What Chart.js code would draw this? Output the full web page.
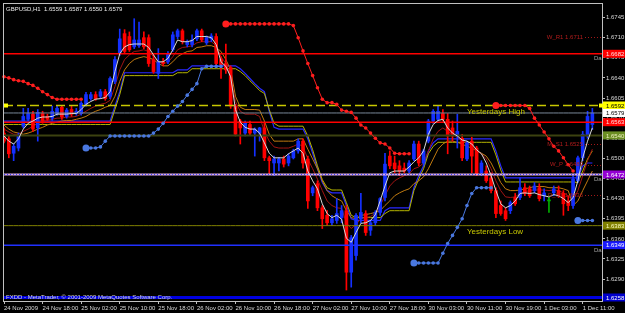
<!DOCTYPE html>
<html><head><meta charset="utf-8">
<script src="https://cdn.jsdelivr.net/npm/chart.js@4.4.0/dist/chart.umd.min.js"></script>
<style>html,body{margin:0;padding:0;background:#000;overflow:hidden}canvas{display:block}</style>
</head><body>
<canvas id="c" width="625" height="313"></canvas>
<script>
const symbol = 'GBPUSD', timeframe = 'H1';
const tickLabels = ["24 Nov 2009","24 Nov 18:00","25 Nov 02:00","25 Nov 10:00","25 Nov 18:00","26 Nov 02:00","26 Nov 10:00","26 Nov 18:00","27 Nov 02:00","27 Nov 10:00","27 Nov 18:00","30 Nov 03:00","30 Nov 11:00","30 Nov 19:00","1 Dec 03:00","1 Dec 11:00"];
const yTicks = [1.6290,1.6325,1.6360,1.6395,1.6430,1.6465,1.6500,1.6535,1.6570,1.6605,1.6640,1.6675,1.6710,1.6745];

const opens = [1.6544,1.6534,1.6509,1.6518,1.6556,1.6568,1.6577,1.6553,1.6578,1.6573,
1.6570,1.6578,1.6589,1.6573,1.6585,1.6578,1.6578,1.6594,1.6604,1.6611,
1.6608,1.6616,1.6608,1.6634,1.6682,1.6717,1.6712,1.6694,1.6696,1.6710,
1.6710,1.6672,1.6648,1.6668,1.6668,1.6689,1.6712,1.6722,1.6698,1.6698,
1.6708,1.6722,1.6701,1.6708,1.6712,1.6672,1.6665,1.6658,1.6591,1.6565,
1.6544,1.6559,1.6544,1.6544,1.6553,1.6501,1.6492,1.6492,1.6499,1.6492,
1.6501,1.6513,1.6530,1.6499,1.6440,1.6456,1.6414,1.6401,1.6388,1.6392,
1.6397,1.6409,1.6302,1.6331,1.6395,1.6404,1.6375,1.6388,1.6406,1.6432,
1.6504,1.6492,1.6487,1.6483,1.6478,1.6499,1.6525,1.6492,1.6530,1.6565,
1.6568,1.6578,1.6568,1.6553,1.6539,1.6535,1.6499,1.6530,1.6518,1.6475,
1.6478,1.6466,1.6444,1.6418,1.6409,1.6409,1.6432,1.6432,1.6449,1.6447,
1.6444,1.6449,1.6435,1.6426,1.6440,1.6444,1.6439,1.6426,1.6418,1.6461,
1.6501,1.6539,1.6559];
const highs = [1.6553,1.6539,1.6525,1.6544,1.6587,1.6587,1.6582,1.6585,1.6582,1.6577,
1.6591,1.6592,1.6592,1.6587,1.6592,1.6587,1.6599,1.6615,1.6615,1.6616,
1.6620,1.6620,1.6642,1.6677,1.6725,1.6724,1.6720,1.6743,1.6737,1.6720,
1.6715,1.6680,1.6691,1.6674,1.6686,1.6720,1.6725,1.6725,1.6706,1.6715,
1.6725,1.6725,1.6713,1.6717,1.6717,1.6677,1.6699,1.6661,1.6594,1.6568,
1.6565,1.6565,1.6553,1.6554,1.6561,1.6504,1.6504,1.6502,1.6504,1.6508,
1.6516,1.6534,1.6534,1.6504,1.6452,1.6461,1.6418,1.6409,1.6401,1.6430,
1.6418,1.6418,1.6366,1.6404,1.6439,1.6409,1.6392,1.6409,1.6432,1.6509,
1.6513,1.6504,1.6496,1.6492,1.6496,1.6530,1.6530,1.6516,1.6568,1.6585,
1.6591,1.6585,1.6578,1.6565,1.6577,1.6542,1.6530,1.6537,1.6521,1.6496,
1.6487,1.6475,1.6449,1.6426,1.6414,1.6426,1.6439,1.6466,1.6456,1.6452,
1.6458,1.6456,1.6447,1.6435,1.6452,1.6452,1.6444,1.6435,1.6470,1.6504,
1.6547,1.6582,1.6587];
const lows = [1.6527,1.6501,1.6496,1.6513,1.6553,1.6565,1.6547,1.6530,1.6561,1.6566,
1.6566,1.6575,1.6568,1.6570,1.6573,1.6575,1.6575,1.6591,1.6601,1.6601,
1.6604,1.6601,1.6604,1.6630,1.6679,1.6682,1.6686,1.6691,1.6693,1.6691,
1.6660,1.6648,1.6639,1.6661,1.6665,1.6686,1.6708,1.6699,1.6694,1.6694,
1.6705,1.6703,1.6698,1.6703,1.6661,1.6639,1.6648,1.6587,1.6539,1.6525,
1.6539,1.6540,1.6504,1.6530,1.6496,1.6473,1.6470,1.6478,1.6485,1.6487,
1.6499,1.6509,1.6483,1.6413,1.6435,1.6409,1.6378,1.6383,1.6383,1.6387,
1.6388,1.6271,1.6276,1.6323,1.6388,1.6366,1.6366,1.6383,1.6401,1.6426,
1.6482,1.6475,1.6470,1.6475,1.6475,1.6496,1.6487,1.6487,1.6527,1.6561,
1.6565,1.6565,1.6508,1.6530,1.6518,1.6496,1.6496,1.6475,1.6470,1.6470,
1.6458,1.6440,1.6397,1.6401,1.6392,1.6404,1.6418,1.6428,1.6435,1.6432,
1.6440,1.6426,1.6426,1.6406,1.6435,1.6432,1.6401,1.6409,1.6413,1.6458,
1.6496,1.6535,1.6550];
const closes = [1.6530,1.6508,1.6521,1.6539,1.6573,1.6578,1.6551,1.6580,1.6565,1.6568,
1.6582,1.6587,1.6572,1.6584,1.6577,1.6582,1.6596,1.6611,1.6611,1.6604,
1.6616,1.6604,1.6639,1.6672,1.6708,1.6686,1.6689,1.6706,1.6706,1.6694,
1.6665,1.6651,1.6668,1.6665,1.6682,1.6715,1.6722,1.6703,1.6703,1.6706,
1.6722,1.6706,1.6710,1.6713,1.6665,1.6663,1.6654,1.6591,1.6542,1.6553,
1.6561,1.6544,1.6551,1.6553,1.6501,1.6496,1.6499,1.6499,1.6490,1.6504,
1.6513,1.6530,1.6492,1.6426,1.6449,1.6414,1.6395,1.6388,1.6395,1.6404,
1.6409,1.6302,1.6362,1.6401,1.6406,1.6371,1.6388,1.6406,1.6430,1.6490,
1.6487,1.6482,1.6478,1.6478,1.6492,1.6525,1.6492,1.6513,1.6565,1.6582,
1.6582,1.6568,1.6539,1.6539,1.6547,1.6501,1.6527,1.6504,1.6473,1.6492,
1.6461,1.6444,1.6404,1.6404,1.6395,1.6423,1.6421,1.6449,1.6439,1.6435,
1.6452,1.6430,1.6440,1.6426,1.6447,1.6435,1.6421,1.6418,1.6464,1.6501,
1.6542,1.6573,1.6579];

const maFast = [1.6539,1.6530,1.6525,1.6534,1.6551,1.6561,1.6565,1.6570,1.6572,1.6572,
1.6573,1.6577,1.6577,1.6577,1.6578,1.6578,1.6585,1.6594,1.6599,1.6603,
1.6604,1.6606,1.6616,1.6651,1.6682,1.6694,1.6698,1.6699,1.6699,1.6699,
1.6693,1.6680,1.6668,1.6668,1.6674,1.6689,1.6706,1.6703,1.6703,1.6705,
1.6712,1.6712,1.6712,1.6710,1.6698,1.6668,1.6660,1.6642,1.6585,1.6563,
1.6554,1.6551,1.6551,1.6544,1.6527,1.6509,1.6501,1.6501,1.6501,1.6508,
1.6513,1.6518,1.6509,1.6478,1.6461,1.6447,1.6421,1.6404,1.6397,1.6401,
1.6394,1.6361,1.6354,1.6371,1.6387,1.6388,1.6392,1.6402,1.6426,1.6452,
1.6475,1.6478,1.6478,1.6478,1.6485,1.6494,1.6501,1.6513,1.6542,1.6559,
1.6566,1.6568,1.6553,1.6544,1.6539,1.6532,1.6530,1.6525,1.6515,1.6508,
1.6492,1.6470,1.6444,1.6421,1.6414,1.6418,1.6426,1.6439,1.6440,1.6439,
1.6440,1.6437,1.6435,1.6433,1.6437,1.6435,1.6430,1.6423,1.6432,1.6461,
1.6501,1.6530,1.6553];
const maMid = [1.6551,1.6546,1.6542,1.6542,1.6547,1.6551,1.6556,1.6561,1.6565,1.6566,
1.6568,1.6570,1.6570,1.6572,1.6572,1.6573,1.6577,1.6582,1.6587,1.6591,
1.6594,1.6596,1.6601,1.6625,1.6654,1.6672,1.6680,1.6686,1.6687,1.6689,
1.6686,1.6677,1.6668,1.6665,1.6667,1.6677,1.6689,1.6693,1.6694,1.6696,
1.6701,1.6703,1.6703,1.6703,1.6696,1.6677,1.6665,1.6642,1.6599,1.6582,
1.6577,1.6577,1.6577,1.6573,1.6547,1.6530,1.6520,1.6518,1.6518,1.6518,
1.6521,1.6525,1.6521,1.6499,1.6482,1.6464,1.6444,1.6426,1.6418,1.6414,
1.6413,1.6388,1.6378,1.6385,1.6395,1.6397,1.6399,1.6404,1.6418,1.6435,
1.6452,1.6461,1.6466,1.6470,1.6473,1.6482,1.6485,1.6492,1.6513,1.6534,
1.6547,1.6553,1.6547,1.6542,1.6537,1.6530,1.6527,1.6521,1.6513,1.6508,
1.6499,1.6482,1.6461,1.6444,1.6433,1.6432,1.6433,1.6439,1.6442,1.6444,
1.6445,1.6445,1.6445,1.6444,1.6445,1.6444,1.6440,1.6435,1.6426,1.6444,
1.6470,1.6496,1.6516];
const maSlow = [1.6558,1.6551,1.6546,1.6544,1.6542,1.6544,1.6547,1.6551,1.6554,1.6558,
1.6561,1.6563,1.6565,1.6566,1.6566,1.6568,1.6570,1.6573,1.6578,1.6582,
1.6585,1.6589,1.6592,1.6608,1.6634,1.6654,1.6665,1.6672,1.6675,1.6677,
1.6675,1.6672,1.6665,1.6661,1.6661,1.6668,1.6677,1.6682,1.6686,1.6687,
1.6693,1.6694,1.6696,1.6696,1.6693,1.6686,1.6672,1.6654,1.6608,1.6589,
1.6585,1.6585,1.6585,1.6584,1.6565,1.6542,1.6530,1.6530,1.6530,1.6530,
1.6530,1.6534,1.6534,1.6516,1.6499,1.6482,1.6461,1.6444,1.6435,1.6430,
1.6426,1.6409,1.6397,1.6395,1.6401,1.6402,1.6404,1.6406,1.6409,1.6418,
1.6426,1.6435,1.6440,1.6444,1.6447,1.6456,1.6461,1.6468,1.6482,1.6499,
1.6516,1.6525,1.6530,1.6530,1.6528,1.6525,1.6521,1.6518,1.6513,1.6509,
1.6504,1.6492,1.6475,1.6458,1.6447,1.6444,1.6444,1.6445,1.6447,1.6449,
1.6451,1.6451,1.6451,1.6449,1.6449,1.6449,1.6447,1.6444,1.6418,1.6426,
1.6444,1.6461,1.6478];
const bandBlue = [1.6565,1.6565,1.6565,1.6565,1.6565,1.6565,1.6565,1.6565,1.6565,1.6565,
1.6565,1.6565,1.6565,1.6565,1.6565,1.6565,1.6565,1.6565,1.6565,1.6565,
1.6565,1.6565,1.6565,1.6591,1.6616,1.6649,1.6649,1.6649,1.6649,1.6649,
1.6649,1.6649,1.6649,1.6649,1.6649,1.6649,1.6654,1.6654,1.6654,1.6661,
1.6661,1.6661,1.6661,1.6661,1.6661,1.6661,1.6661,1.6661,1.6661,1.6656,
1.6648,1.6639,1.6630,1.6622,1.6616,1.6582,1.6554,1.6551,1.6551,1.6551,
1.6551,1.6551,1.6551,1.6534,1.6509,1.6482,1.6458,1.6444,1.6440,1.6440,
1.6440,1.6418,1.6395,1.6392,1.6392,1.6392,1.6392,1.6392,1.6392,1.6409,
1.6414,1.6414,1.6414,1.6414,1.6414,1.6449,1.6470,1.6487,1.6513,1.6527,
1.6534,1.6534,1.6534,1.6534,1.6534,1.6534,1.6534,1.6534,1.6534,1.6534,
1.6534,1.6534,1.6513,1.6487,1.6466,1.6466,1.6466,1.6466,1.6466,1.6466,
1.6466,1.6466,1.6466,1.6466,1.6466,1.6466,1.6466,1.6466,1.6466,1.6466,
1.6487,1.6492,1.6492];
const bandYellow = [1.6559,1.6559,1.6559,1.6559,1.6559,1.6559,1.6559,1.6559,1.6559,1.6559,
1.6559,1.6559,1.6559,1.6559,1.6559,1.6559,1.6559,1.6559,1.6559,1.6559,
1.6559,1.6559,1.6559,1.6585,1.6611,1.6644,1.6644,1.6644,1.6644,1.6644,
1.6644,1.6644,1.6644,1.6644,1.6644,1.6644,1.6649,1.6649,1.6649,1.6656,
1.6656,1.6656,1.6656,1.6656,1.6656,1.6656,1.6656,1.6656,1.6656,1.6651,
1.6644,1.6635,1.6627,1.6618,1.6613,1.6585,1.6561,1.6556,1.6556,1.6556,
1.6556,1.6556,1.6556,1.6539,1.6515,1.6487,1.6463,1.6449,1.6445,1.6445,
1.6445,1.6423,1.6401,1.6397,1.6397,1.6397,1.6397,1.6397,1.6397,1.6404,
1.6409,1.6409,1.6409,1.6409,1.6409,1.6444,1.6464,1.6482,1.6508,1.6521,
1.6528,1.6528,1.6528,1.6528,1.6528,1.6528,1.6528,1.6528,1.6528,1.6528,
1.6528,1.6528,1.6506,1.6480,1.6459,1.6459,1.6459,1.6459,1.6459,1.6459,
1.6459,1.6459,1.6459,1.6459,1.6459,1.6459,1.6459,1.6459,1.6459,1.6458,
1.6478,1.6499,1.6513];
const sarUpper = [1.6642,1.6640,1.6637,1.6635,1.6634,1.6630,1.6627,1.6622,1.6616,1.6611,
1.6606,1.6603,1.6603,1.6603,1.6603,1.6603,1.6603,null,null,null,
null,null,null,null,null,null,null,null,null,null,
null,null,null,null,null,null,null,null,null,null,
null,null,null,null,null,null,1.6734,1.6734,1.6734,1.6734,
1.6734,1.6734,1.6734,1.6734,1.6734,1.6734,1.6734,1.6734,1.6734,1.6734,
1.6731,1.6710,1.6687,1.6665,1.6644,1.6623,1.6603,1.6597,1.6597,1.6594,
1.6584,1.6582,1.6580,1.6570,1.6558,1.6553,1.6544,1.6535,1.6527,1.6525,
1.6518,1.6509,1.6508,1.6508,1.6508,null,null,null,null,null,
null,null,null,null,null,null,null,null,null,null,
null,null,1.6592,1.6592,1.6592,1.6592,1.6592,1.6592,1.6592,1.6587,
1.6570,1.6558,1.6546,1.6534,1.6521,1.6513,1.6501,1.6489,1.6478,null,
null,null,null];
const sarLower = [null,null,null,null,null,null,null,null,null,null,
null,null,null,null,null,null,null,1.6518,1.6518,1.6518,
1.6520,1.6530,1.6539,1.6539,1.6539,1.6539,1.6539,1.6539,1.6539,1.6539,
1.6539,1.6544,1.6551,1.6561,1.6573,1.6582,1.6591,1.6599,1.6610,1.6620,
1.6630,1.6656,1.6660,1.6660,1.6660,1.6660,null,null,null,null,
null,null,null,null,null,null,null,null,null,null,
null,null,null,null,null,null,null,null,null,null,
null,null,null,null,null,null,null,null,null,null,
null,null,null,null,null,1.6318,1.6318,1.6318,1.6318,1.6318,
1.6318,1.6335,1.6352,1.6366,1.6380,1.6395,1.6418,1.6439,1.6449,1.6449,
1.6449,1.6449,null,null,null,null,null,null,null,null,
null,null,null,null,null,null,null,null,null,1.6392,
1.6392,1.6392,1.6392];

const levelValues = [1.6682, 1.6592, 1.6579, 1.6563, 1.6540, 1.6472, 1.6383, 1.6349, 1.6258];
const yesterdayHigh = 1.6592, yesterdayLow = 1.6383;
const pivotNames = ['W_R1', 'M_S1', 'W_P', 'D_S1'];
const pivotValues = [1.6711, 1.6525, 1.6489, 1.6436];

// ---- styling ----
const levelStyles = [
  {color:'#ff0000', width:1.5, bg:'#ff0000', fg:'#ffe0e0', dai:true},
  {color:'#c8c800', width:1.5, dash:[9,4], bg:'#ffff00', fg:'#000000'},
  {color:'#7a8899', width:1, bg:'#ffffff', fg:'#000000'},
  {color:'#ff0000', width:1.5, bg:'#ff0000', fg:'#ffe0e0'},
  {color:'#3c4210', width:2, bg:'#6b8e23', fg:'#f0f0c0'},
  {color:'#d8a8e8', width:2, bg:'#9400d3', fg:'#ffffff', dai:true, overlay:'#3040ff'},
  {color:'#808000', width:1, bg:'#808000', fg:'#ffffc0'},
  {color:'#2030ff', width:1.5, bg:'#1a1aff', fg:'#ffffff', dai:true},
  {color:'#0000e0', width:3, bg:'#0000cd', fg:'#ffffff'}
];
const SLOTS = 125;
const slots = Array.from({length: SLOTS}, (_, i) => i);
const BULL = '#1430ff', BEAR = '#ff0000', DOJI = '#00b000';
const candleColors = closes.map((c, i) => c > opens[i] ? BULL : (c < opens[i] ? BEAR : DOJI));
const FONT = '"Liberation Sans", Arial, sans-serif';

const datasets = [];
// SAR dots (top)
const sarRadius = (ctx) => {
  const d = ctx.dataset.data, i = ctx.dataIndex;
  return (d[i] != null && i > 0 && d[i-1] == null) ? 3.5 : 1.8;
};
datasets.push({type:'line', data: sarUpper, borderColor:'#ff1e1e', backgroundColor:'#ff1e1e', borderWidth:1, pointRadius: sarRadius, pointBorderWidth:0, pointBackgroundColor:'#ff1e1e', spanGaps:false, order:1});
datasets.push({type:'line', data: sarLower, borderColor:'#4a78e0', backgroundColor:'#4a78e0', borderWidth:1, pointRadius: sarRadius, pointBorderWidth:0, pointBackgroundColor:'#4a78e0', spanGaps:false, order:1});
// fast MA
datasets.push({type:'line', data: maFast, borderColor:'#d8d8d8', borderWidth:1, pointRadius:0, order:3});
// levels
levelValues.forEach((v, i) => {
  const s = levelStyles[i];
  datasets.push({type:'line', data: slots.map(() => v), borderColor:s.color, borderWidth:s.width, borderDash:s.dash || [], pointRadius:0, order:5});
  if (s.overlay) datasets.push({type:'line', data: slots.map(() => v), borderColor:s.overlay, borderWidth:1, borderDash:[1,2], pointRadius:0, order:4});
});
// candles
datasets.push({type:'bar', data: opens.map((o, i) => [o, closes[i]]), backgroundColor: candleColors, barThickness:3, minBarLength:1, grouped:false, borderWidth:0, order:8});
datasets.push({type:'bar', data: lows.map((l, i) => [l, highs[i]]), backgroundColor: candleColors, barThickness:1, grouped:false, borderWidth:0, order:9});
// bands
datasets.push({type:'line', data: maMid, borderColor:'#a01414', borderWidth:1, pointRadius:0, order:10});
datasets.push({type:'line', data: maSlow, borderColor:'#c07a10', borderWidth:1, pointRadius:0, order:11});
datasets.push({type:'line', data: bandYellow, borderColor:'#b4b400', borderWidth:1, pointRadius:0, order:12});
datasets.push({type:'line', data: bandBlue, borderColor:'#2828ff', borderWidth:1.2, pointRadius:0, order:13});

const bgPlugin = {
  id:'bg',
  beforeDraw(chart){ const c = chart.ctx; c.save(); c.fillStyle = '#000'; c.fillRect(0,0,chart.width,chart.height); c.restore(); }
};

const overlay = {
  id:'overlay',
  afterDraw(chart){
    const {ctx, chartArea:a, scales} = chart;
    const xs = scales.x, ys = scales.y;
    ctx.save();
    ctx.save();
    ctx.beginPath(); ctx.rect(a.left, a.top, a.right - a.left, a.bottom - a.top); ctx.clip();
    ctx.font = '6px ' + FONT; ctx.fillStyle = '#a0a0a0'; ctx.textAlign = 'left'; ctx.textBaseline = 'top';
    levelValues.forEach((v, i) => { if (levelStyles[i].dai) ctx.fillText('Daily', a.right - 8, ys.getPixelForValue(v) + 2); });
    ctx.font = '8px ' + FONT; ctx.fillStyle = '#c8c800';
    ctx.fillText('Yesterdays High', xs.getPixelForValue(96), ys.getPixelForValue(yesterdayHigh) + 2);
    ctx.fillText('Yesterdays Low', xs.getPixelForValue(96), ys.getPixelForValue(yesterdayLow) + 2);
    ctx.font = '6px ' + FONT; ctx.textAlign = 'right'; ctx.textBaseline = 'middle';
    pivotNames.forEach((n, i) => {
      const py = ys.getPixelForValue(pivotValues[i]);
      ctx.fillStyle = '#b41c1c';
      ctx.fillText(n + ' ' + pivotValues[i].toFixed(4), a.right - 19, py);
      ctx.strokeStyle = '#a01818'; ctx.lineWidth = 1; ctx.setLineDash([1,2]);
      ctx.beginPath(); ctx.moveTo(a.right - 17, Math.round(py) + 0.5); ctx.lineTo(a.right, Math.round(py) + 0.5); ctx.stroke();
    });
    ctx.setLineDash([]);
    const n = closes.length - 1;
    ctx.textAlign = 'left'; ctx.textBaseline = 'top'; ctx.fillStyle = '#ececec'; ctx.font = '6px ' + FONT;
    ctx.fillText(`${symbol},${timeframe}  ${opens[n].toFixed(4)} ${highs[n].toFixed(4)} ${lows[n].toFixed(4)} ${closes[n].toFixed(4)}`, a.left + 2, a.top + 2);
    ctx.textBaseline = 'middle'; ctx.fillStyle = '#d8d8d8';
    ctx.fillText('FXDD - MetaTrader, \u00a9 2001-2009 MetaQuotes Software Corp.', a.left + 2, a.bottom - 4);
    ctx.restore();
    // frame
    ctx.strokeStyle = '#c0c0c0'; ctx.lineWidth = 1;
    ctx.strokeRect(a.left - 0.5, a.top - 0.5, a.right - a.left + 1, a.bottom - a.top + 1);
    // yellow markers on yesterday high line
    const yh = ys.getPixelForValue(yesterdayHigh);
    ctx.fillStyle = '#ffff00';
    ctx.fillRect(a.left, yh - 2, 4, 4);
    ctx.fillRect(a.right - 3, yh - 2, 4, 4);
    // axis price boxes
    ctx.font = '6px ' + FONT; ctx.textAlign = 'left'; ctx.textBaseline = 'middle';
    levelValues.forEach((v, i) => {
      const s = levelStyles[i], py = ys.getPixelForValue(v);
      ctx.fillStyle = s.bg; ctx.fillRect(a.right + 1, py - 4, chart.width - a.right - 1, 8);
      ctx.fillStyle = s.fg; ctx.fillText(v.toFixed(4), a.right + 4, py + 0.5);
    });
    ctx.restore();
  }
};

new Chart(document.getElementById('c'), {
  type:'bar',
  data:{ labels: slots, datasets },
  options:{
    responsive:false, animation:false, events:[], devicePixelRatio:1,
    layout:{ padding:{ left:2, top:2, right:0, bottom:0 } },
    plugins:{ legend:{display:false}, tooltip:{enabled:false} },
    scales:{
      x:{
        type:'category', offset:false,
        afterFit: s => { s.height = 12; s.paddingLeft = 0; s.paddingRight = 0; },
        ticks:{ autoSkip:false, maxRotation:0, minRotation:0, align:'start', padding:1, color:'#d8d8d8',
          font:{ family:FONT, size:6 },
          callback:(v, i) => (i % 8 === 0 && tickLabels[i / 8]) ? tickLabels[i / 8] : '' },
        grid:{ drawOnChartArea:false, offset:false, tickLength:3, tickColor: c => (c.index % 8 === 0 ? '#c0c0c0' : 'rgba(0,0,0,0)') },
        border:{ display:false }
      },
      y:{
        position:'right', min:1.62519, max:1.67686,
        afterBuildTicks: s => { s.ticks = yTicks.map(v => ({ value: v })); },
        afterFit: s => { s.width = 23; s.paddingTop = 0; s.paddingBottom = 0; },
        ticks:{ color:'#d8d8d8', padding:1, font:{ family:FONT, size:6 }, callback: v => Number(v).toFixed(4) },
        grid:{ drawOnChartArea:false, tickLength:3, color:'#c0c0c0' },
        border:{ display:false }
      }
    }
  },
  plugins:[bgPlugin, overlay]
});
</script>
</body></html>
